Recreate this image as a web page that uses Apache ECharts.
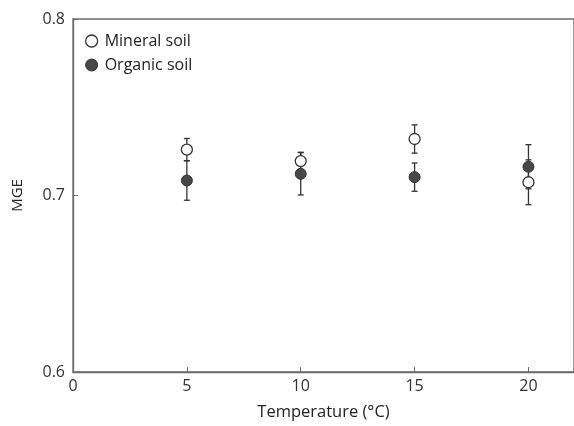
<!DOCTYPE html>
<html>
<head>
<meta charset="utf-8">
<script src="https://cdn.jsdelivr.net/npm/echarts@6/dist/echarts.min.js"></script>
<style>
  html, body { margin: 0; padding: 0; background: #fff; }
  #chart { width: 574px; height: 426px; }
</style>
</head>
<body>
<div id="chart"></div>
<script>
// temperatures (°C)
const temps = [5, 10, 15, 20]
// MGE means and error (± half-bar)
const mineral = [0.726, 0.7195, 0.732, 0.7075]
const mineralErr = [0.0063, 0.005, 0.008, 0.0127]
const organic = [0.7085, 0.7123, 0.7104, 0.7163]
const organicErr = [0.0112, 0.012, 0.008, 0.0125]
const xTicks = [0, 5, 10, 15, 20]
const yTicks = [0.6, 0.7, 0.8]

const axisColor = '#6b6b6b'
const font = 'Open Sans'
const dark = '#474747'

function errData(means, errs) {
  return temps.map((t, i) => [t, means[i] - errs[i], means[i] + errs[i]])
}

function errRender(params, api) {
  const x = api.value(0)
  const lo = api.coord([x, api.value(1)])
  const hi = api.coord([x, api.value(2)])
  const w = 3
  const style = { stroke: '#333', lineWidth: 1.3 }
  return {
    type: 'group',
    children: [
      { type: 'line', shape: { x1: lo[0], y1: lo[1], x2: hi[0], y2: hi[1] }, style },
      { type: 'line', shape: { x1: lo[0] - w, y1: lo[1], x2: lo[0] + w, y2: lo[1] }, style },
      { type: 'line', shape: { x1: hi[0] - w, y1: hi[1], x2: hi[0] + w, y2: hi[1] }, style }
    ]
  }
}

const chart = echarts.init(document.getElementById('chart'))
chart.setOption({
  animation: false,
  textStyle: { fontFamily: font },
  grid: {
    left: 73, right: -3, top: 19, bottom: 49,
    show: true, borderColor: axisColor, borderWidth: 1.3,
    containLabel: false
  },
  legend: {
    left: 80, top: 28, orient: 'vertical',
    itemWidth: 12, itemHeight: 12, itemGap: 8,
    textStyle: { fontFamily: font, fontSize: 16, color: '#222', padding: [0, 0, 0, 2] },
    data: [
      { name: 'Mineral soil', icon: 'circle', itemStyle: { color: '#fff', borderColor: '#333', borderWidth: 1.3 } },
      { name: 'Organic soil', icon: 'circle', itemStyle: { color: dark, borderColor: '#333', borderWidth: 1 } }
    ]
  },
  xAxis: {
    type: 'value', min: 0, max: 22, interval: 5,
    name: 'Temperature (°C)', nameLocation: 'middle', nameGap: 32,
    nameTextStyle: { fontFamily: font, fontSize: 16.5, color: '#222' },
    axisLine: { show: true, lineStyle: { color: axisColor, width: 1.3 } },
    axisTick: { show: true, inside: true, length: 5, lineStyle: { color: axisColor }, customValues: [5, 10, 15, 20] },
    axisLabel: { fontFamily: font, fontSize: 16, color: '#333', margin: 6, customValues: xTicks },
    splitLine: { show: false }
  },
  yAxis: {
    type: 'value', min: 0.6, max: 0.8, interval: 0.1,
    name: 'MGE', nameLocation: 'middle', nameGap: 48,
    nameTextStyle: { fontFamily: font, fontSize: 15, color: '#222' },
    axisLine: { show: true, lineStyle: { color: axisColor, width: 1.3 } },
    axisTick: { show: true, inside: true, length: 5, lineStyle: { color: axisColor } },
    axisLabel: { fontFamily: font, fontSize: 16, color: '#333', margin: 8, customValues: yTicks, formatter: v => v.toFixed(1) },
    splitLine: { show: false }
  },
  series: [
    { type: 'custom', name: 'mErr', renderItem: errRender, data: errData(mineral, mineralErr), z: 1, silent: true },
    { type: 'custom', name: 'oErr', renderItem: errRender, data: errData(organic, organicErr), z: 1, silent: true },
    {
      type: 'scatter', name: 'Organic soil', symbol: 'circle', symbolSize: 11, z: 3,
      itemStyle: { color: dark, borderColor: '#333', borderWidth: 1, opacity: 1 },
      data: temps.map((t, i) => [t, organic[i]])
    },
    {
      type: 'scatter', name: 'Mineral soil', symbol: 'circle', symbolSize: 11, z: 4,
      itemStyle: { color: '#fff', borderColor: '#333', borderWidth: 1.3, opacity: 1 },
      data: temps.map((t, i) => [t, mineral[i]])
    }
  ]
})
</script>
</body>
</html>
